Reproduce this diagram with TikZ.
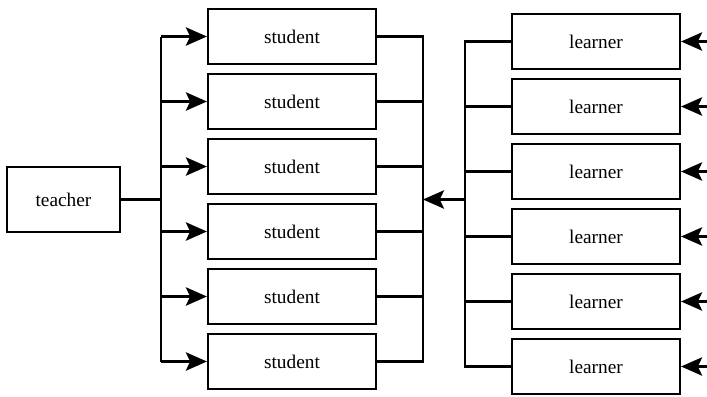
\documentclass[tikz,border=0pt]{standalone}
\usepackage{fontspec}
\setmainfont{Liberation Serif}
\usepackage{tikz}
\usetikzlibrary{arrows.meta}
\tikzset{
	box/.style={draw, line width=1.3pt, minimum width=3.36cm, minimum height=1.1cm, font=\fontsize{11}{13}\selectfont},
	wire/.style={line width=1.3pt},
	arr/.style={wire, -{Stealth[length=12pt, width=10.5pt, inset=2.5pt]}}
}

\begin{document}
\begin{tikzpicture}[x=0.02cm, y=-0.02cm]
		\useasboundingbox (0,0) rectangle (707,396);

		\node[box, minimum width=2.26cm, minimum height=1.3cm] (teacher) at (63.5,199.5) {teacher};

		\node[box] (s1) at (292,36.5) {student};
		\node[box] (s2) at (292,101.5) {student};
		\node[box] (s3) at (292,166.5) {student};
		\node[box] (s4) at (292,231.5) {student};
		\node[box] (s5) at (292,296.5) {student};
		\node[box] (s6) at (292,361.5) {student};

		\node[box] (l1) at (596,41.5) {learner};
		\node[box] (l2) at (596,106.5) {learner};
		\node[box] (l3) at (596,171.5) {learner};
		\node[box] (l4) at (596,236.5) {learner};
		\node[box] (l5) at (596,301.5) {learner};
		\node[box] (l6) at (596,366.5) {learner};

		\coordinate (tj) at (161,199.5);
		\coordinate (mj) at (423,199.5);
		\coordinate (lj) at (465,199.5);
		\coordinate (edge) at (707,0);

		% teacher to students
		\draw[wire] (teacher) -- (tj);
		\draw[wire] (s1.west -| tj) -- (s6.west -| tj);
		\draw[arr] (s1.west -| tj) -- (s1.west);
		\draw[arr] (s2.west -| tj) -- (s2.west);
		\draw[arr] (s3.west -| tj) -- (s3.west);
		\draw[arr] (s4.west -| tj) -- (s4.west);
		\draw[arr] (s5.west -| tj) -- (s5.west);
		\draw[arr] (s6.west -| tj) -- (s6.west);

		% students joined
		\draw[wire] (s1.east) -- (s1.east -| mj) -- (s6.east -| mj) -- (s6.east);
		\draw[wire] (s2.east) -- (s2.east -| mj);
		\draw[wire] (s3.east) -- (s3.east -| mj);
		\draw[wire] (s4.east) -- (s4.east -| mj);
		\draw[wire] (s5.east) -- (s5.east -| mj);

		% learners joined
		\draw[arr] (lj) -- (mj);
		\draw[wire] (l1.west) -- (l1.west -| lj) -- (l6.west -| lj) -- (l6.west);
		\draw[wire] (l2.west) -- (l2.west -| lj);
		\draw[wire] (l3.west) -- (l3.west -| lj);
		\draw[wire] (l4.west) -- (l4.west -| lj);
		\draw[wire] (l5.west) -- (l5.west -| lj);

		% inputs on the right
		\draw[arr] (l1.east -| edge) -- (l1.east);
		\draw[arr] (l2.east -| edge) -- (l2.east);
		\draw[arr] (l3.east -| edge) -- (l3.east);
		\draw[arr] (l4.east -| edge) -- (l4.east);
		\draw[arr] (l5.east -| edge) -- (l5.east);
		\draw[arr] (l6.east -| edge) -- (l6.east);
	\end{tikzpicture}
\end{document}
